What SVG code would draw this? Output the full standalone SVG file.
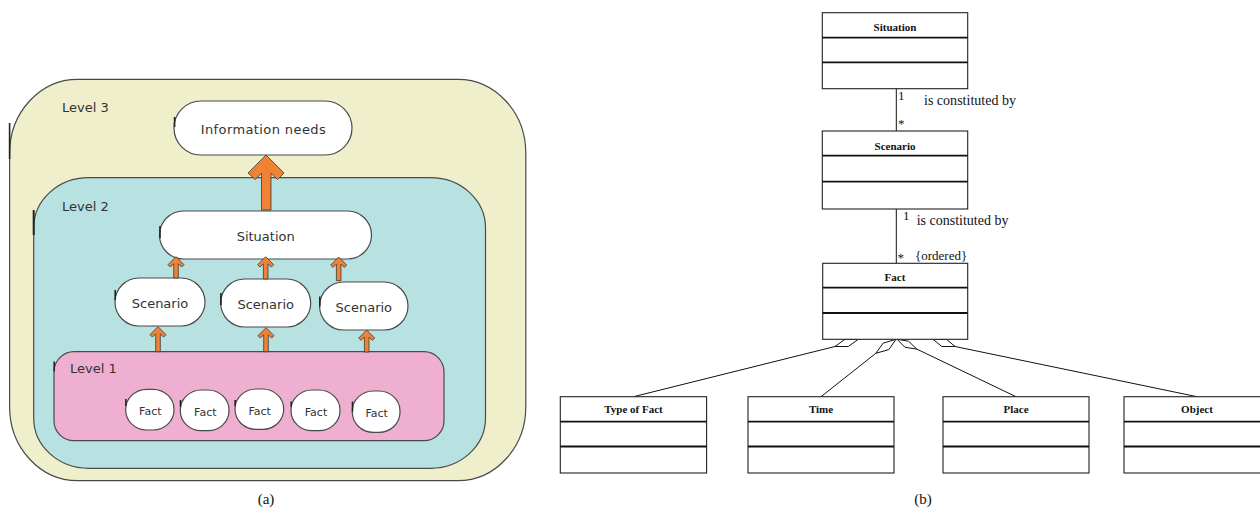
<svg xmlns="http://www.w3.org/2000/svg" width="1260" height="520" viewBox="0 0 1260 520">
<style>
.lvl{stroke:#4a4a4a;stroke-width:1.2}
.node{fill:#ffffff;stroke:#4a4a4a;stroke-width:1.2}
.mark{stroke:#222;stroke-width:1.6}
.t{font-family:"DejaVu Sans",Verdana,sans-serif;fill:#333;font-size:13px}
.tf{font-family:"DejaVu Sans",Verdana,sans-serif;fill:#333;font-size:11px;text-anchor:middle}
.arr{fill:#ef8233;stroke:#3a3a3a;stroke-width:0.8;stroke-linejoin:miter}
.box{fill:#ffffff;stroke:#222;stroke-width:1.1}
.div{stroke:#111;stroke-width:1.8}
.title{font-family:"Liberation Serif","Times New Roman",serif;font-weight:bold;font-size:11px;fill:#111;text-anchor:middle}
.lbl{font-family:"Liberation Serif","Times New Roman",serif;font-size:14px;fill:#111}
.cap{font-family:"Liberation Serif","Times New Roman",serif;font-size:15px;fill:#111;text-anchor:middle}
.conn{stroke:#111;stroke-width:1;fill:none}
.dia{fill:#ffffff;stroke:#111;stroke-width:1}
</style>

<!-- Panel (a) -->
<g id="level3">
<rect class="lvl" x="9.6" y="79.3" width="516.2" height="401.4" rx="68" ry="74" fill="#efefcb"/>
<line class="mark" x1="9.6" y1="123" x2="9.6" y2="159"/>
<text class="t" x="62" y="111.5">Level 3</text>
</g>
<g id="information-needs">
<rect class="node" x="174" y="101" width="178" height="54" rx="27" ry="27"/>
<line class="mark" x1="174.6" y1="117" x2="174.6" y2="127"/>
<text class="t" x="263.4" y="134" text-anchor="middle" letter-spacing="0.4">Information needs</text>
</g>
<g id="level2">
<rect class="lvl" x="33.7" y="177.7" width="451.8" height="290.6" rx="55" ry="50" fill="#b8e1e1"/>
<line class="mark" x1="33.7" y1="210" x2="33.7" y2="235" style="stroke-width:2"/>
<text class="t" x="62" y="211">Level 2</text>
</g>
<g id="situation">
<rect class="node" x="159.5" y="211" width="212" height="48" rx="24" ry="24"/>
<line class="mark" x1="160" y1="226" x2="160" y2="238"/>
<text class="t" x="265.7" y="241" text-anchor="middle">Situation</text>
</g>
<g id="scenario-a1">
<rect class="node" x="115" y="278" width="90" height="48" rx="24" ry="24"/>
<line class="mark" x1="115.2" y1="290" x2="115.2" y2="300"/>
<text class="t" x="160" y="308" text-anchor="middle">Scenario</text>
</g>
<g id="scenario-a2">
<rect class="node" x="220.7" y="279" width="90" height="48" rx="24" ry="24"/>
<line class="mark" x1="220.9" y1="293" x2="220.9" y2="305"/>
<text class="t" x="265.7" y="309" text-anchor="middle">Scenario</text>
</g>
<g id="scenario-a3">
<rect class="node" x="319.6" y="282" width="88.4" height="48" rx="24" ry="24"/>
<line class="mark" x1="319.8" y1="296.5" x2="319.8" y2="306.5"/>
<text class="t" x="363.8" y="312" text-anchor="middle">Scenario</text>
</g>
<g id="level1">
<rect class="lvl" x="54" y="351.7" width="390" height="89" rx="20" ry="20" fill="#efafd0"/>
<line class="mark" x1="54.2" y1="361.5" x2="54.2" y2="371.5"/>
<text class="t" x="70" y="372.7">Level 1</text>
</g>
<g id="fact-a1">
<rect class="node" x="125.7" y="389.3" width="48.3" height="40.7" rx="21" ry="20"/>
<line class="mark" x1="125.9" y1="399" x2="125.9" y2="406"/>
<text class="tf" x="150.3" y="414.7">Fact</text>
</g>
<g id="fact-a2">
<rect class="node" x="180.3" y="390" width="48.7" height="40.7" rx="21" ry="20"/>
<line class="mark" x1="180.5" y1="400" x2="180.5" y2="406.7"/>
<text class="tf" x="205.3" y="415.7">Fact</text>
</g>
<g id="fact-a3">
<rect class="node" x="235" y="389" width="48.7" height="40.3" rx="21" ry="20"/>
<line class="mark" x1="235.2" y1="400" x2="235.2" y2="406"/>
<text class="tf" x="259.7" y="414.7">Fact</text>
</g>
<g id="fact-a4">
<rect class="node" x="291" y="390" width="49" height="40.7" rx="21" ry="20"/>
<line class="mark" x1="291.2" y1="401.5" x2="291.2" y2="406.7"/>
<text class="tf" x="316" y="415.7">Fact</text>
</g>
<g id="fact-a5">
<rect class="node" x="352.3" y="391" width="47.7" height="41.3" rx="21" ry="20"/>
<line class="mark" x1="352.5" y1="401.5" x2="352.5" y2="411.5"/>
<text class="tf" x="376.7" y="416.7">Fact</text>
</g>

<g id="arrows-a">
<path class="arr" d="M266,155 L284,173 L277.5,179.5 L271,173.5 L271,210 L261.5,210 L261.5,173.5 L255,179.5 L248,173 Z"/>
<g transform="translate(176,256.7)"><path class="arr" d="M0,0 L8,8 L5.6,10.4 L2.3,7.1 L2.3,21.3 L-2.3,21.3 L-2.3,7.1 L-5.6,10.4 L-8,8 Z"/></g>
<g transform="translate(265.7,256.7)"><path class="arr" d="M0,0 L8,8 L5.6,10.4 L2.3,7.1 L2.3,22.3 L-2.3,22.3 L-2.3,7.1 L-5.6,10.4 L-8,8 Z"/></g>
<g transform="translate(338.7,257)"><path class="arr" d="M0,0 L8,8 L5.6,10.4 L2.3,7.1 L2.3,23.7 L-2.3,23.7 L-2.3,7.1 L-5.6,10.4 L-8,8 Z"/></g>
<g transform="translate(158,326.7)"><path class="arr" d="M0,0 L8,8 L5.6,10.4 L2.3,7.1 L2.3,25 L-2.3,25 L-2.3,7.1 L-5.6,10.4 L-8,8 Z"/></g>
<g transform="translate(266,327.7)"><path class="arr" d="M0,0 L8,8 L5.6,10.4 L2.3,7.1 L2.3,24 L-2.3,24 L-2.3,7.1 L-5.6,10.4 L-8,8 Z"/></g>
<g transform="translate(366.7,330)"><path class="arr" d="M0,0 L8,8 L5.6,10.4 L2.3,7.1 L2.3,22 L-2.3,22 L-2.3,7.1 L-5.6,10.4 L-8,8 Z"/></g>
</g>

<text class="cap" x="266" y="504">(a)</text>

<!-- Panel (b) -->
<g id="connectors-b">
<line class="conn" x1="896.3" y1="88.7" x2="896.3" y2="131"/>
<line class="conn" x1="896.3" y1="209" x2="896.3" y2="263.3"/>
<line class="conn" x1="835" y1="346.5" x2="633.5" y2="396.7"/>
<line class="conn" x1="875.8" y1="353.3" x2="821" y2="396.7"/>
<line class="conn" x1="916.8" y1="349.1" x2="1016" y2="396.7"/>
<line class="conn" x1="955" y1="346.5" x2="1197" y2="396.7"/>
<polygon class="dia" points="845,339.3 858.3,339.3 848.3,346.5 835,346.5"/>
<polygon class="dia" points="896,339.3 888.8,349.6 875.8,353.3 883.2,343.1"/>
<polygon class="dia" points="897,339.3 908.5,341.2 916.8,349.1 905,347.3"/>
<polygon class="dia" points="933,339.3 946.5,339.3 955,346.5 941.8,346.5"/>
<text class="lbl" x="898" y="100" style="font-size:13px">1</text>
<text class="lbl" x="924" y="104.5" textLength="92" lengthAdjust="spacingAndGlyphs">is constituted by</text>
<text class="lbl" x="898" y="128" style="font-size:13px">*</text>
<text class="lbl" x="903" y="220" style="font-size:13px">1</text>
<text class="lbl" x="916.7" y="225">is constituted by</text>
<text class="lbl" x="897.5" y="262" style="font-size:13px">*</text>
<text class="lbl" x="915" y="259.5" style="font-size:13px">{ordered}</text>
</g>

<g id="situation-b">
<rect class="box" x="822.3" y="12.7" width="145.4" height="76"/>
<line class="div" x1="822.3" y1="37.7" x2="967.7" y2="37.7"/>
<line class="div" x1="822.3" y1="62.3" x2="967.7" y2="62.3"/>
<text class="title" x="895" y="30.5">Situation</text>
</g>
<g id="scenario-b">
<rect class="box" x="822.3" y="131" width="145.4" height="78"/>
<line class="div" x1="822.3" y1="155.7" x2="967.7" y2="155.7"/>
<line class="div" x1="822.3" y1="181.7" x2="967.7" y2="181.7"/>
<text class="title" x="895" y="150">Scenario</text>
</g>
<g id="fact-b">
<rect class="box" x="822.7" y="263.3" width="145" height="76"/>
<line class="div" x1="822.7" y1="287.7" x2="967.7" y2="287.7"/>
<line class="div" x1="822.7" y1="313" x2="967.7" y2="313"/>
<text class="title" x="895" y="280.5">Fact</text>
</g>
<g id="type-of-fact">
<rect class="box" x="560.3" y="396.7" width="146.3" height="76.3"/>
<line class="div" x1="560.3" y1="421.7" x2="706.6" y2="421.7"/>
<line class="div" x1="560.3" y1="446.5" x2="706.6" y2="446.5"/>
<text class="title" x="633.5" y="413">Type of Fact</text>
</g>
<g id="time">
<rect class="box" x="748" y="396.7" width="146" height="76.3"/>
<line class="div" x1="748" y1="421.7" x2="894" y2="421.7"/>
<line class="div" x1="748" y1="446.5" x2="894" y2="446.5"/>
<text class="title" x="821" y="413">Time</text>
</g>
<g id="place">
<rect class="box" x="943" y="396.7" width="146" height="76.3"/>
<line class="div" x1="943" y1="421.7" x2="1089" y2="421.7"/>
<line class="div" x1="943" y1="446.5" x2="1089" y2="446.5"/>
<text class="title" x="1016" y="413">Place</text>
</g>
<g id="object">
<rect class="box" x="1124" y="396.7" width="146" height="76.3"/>
<line class="div" x1="1124" y1="421.7" x2="1270" y2="421.7"/>
<line class="div" x1="1124" y1="446.5" x2="1270" y2="446.5"/>
<text class="title" x="1197" y="413">Object</text>
</g>

<text class="cap" x="923" y="504">(b)</text>
</svg>
